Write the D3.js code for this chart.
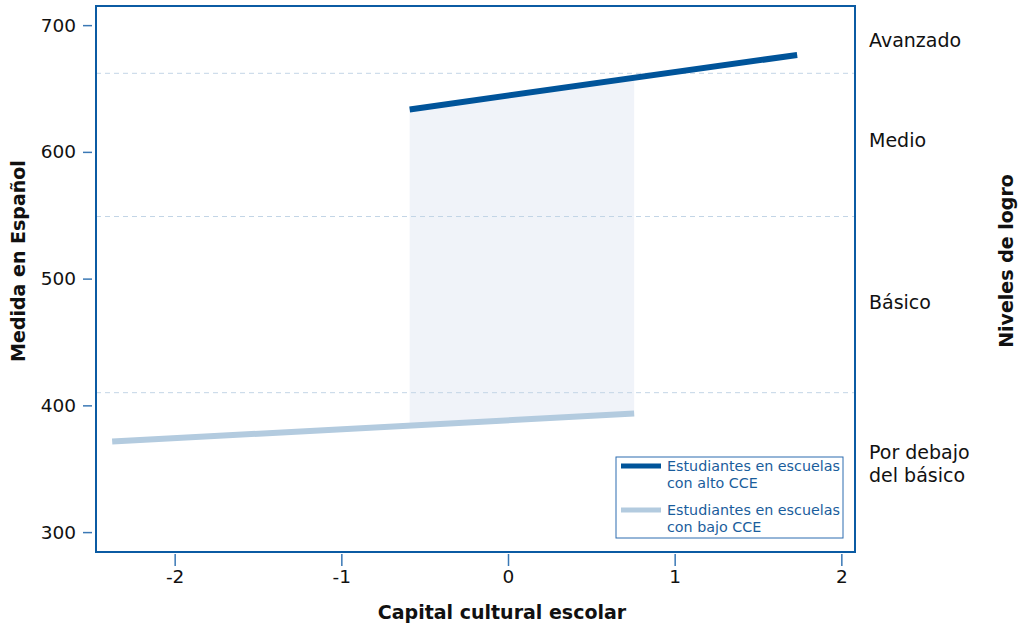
<!DOCTYPE html>
<html><head><meta charset="utf-8">
<script src="https://cdn.jsdelivr.net/npm/d3@7"></script>
<style>body{margin:0;background:#fff;} text{font-family:"DejaVu Sans",Verdana,sans-serif;}</style>
</head><body>
<svg id="c" width="1022" height="630"></svg>
<script>
// Data
const seriesNames = ["Estudiantes en escuelas con alto CCE", "Estudiantes en escuelas con bajo CCE"];
const altoX = [-0.59, 1.735];
const altoY = [633.5, 676.5];
const bajoX = [-2.375, 0.757];
const bajoY = [371.5, 393.5];
const cutPoints = [410, 549, 662];
const levelNames = ["Por debajo\ndel básico", "Básico", "Medio", "Avanzado"];
const levelCenters = [354, 481, 609, 688];
const yTicks = [300, 400, 500, 600, 700];
const xTicks = [-2, -1, 0, 1, 2];

const svg = d3.select("#c");
const L = 96, R = 855, T = 6, B = 552;
const x = d3.scaleLinear().domain([-2.472, 2.082]).range([L, R]);
const y = d3.scaleLinear().domain([284.3, 715.1]).range([B, T]);
const blue = "#0b5ba3", dark = "#00549a", light = "#b3cbdf";

// shaded area between lines over common range
const x0 = Math.max(altoX[0], bajoX[0]), x1 = Math.min(altoX[1], bajoX[1]);
const lin = (xs, ys) => d3.scaleLinear().domain(xs).range(ys);
const fa = lin(altoX, altoY), fb = lin(bajoX, bajoY);
const areaData = [x0, x1].map(v => ({x: v, hi: fa(v), lo: fb(v)}));
svg.append("path").datum(areaData)
  .attr("d", d3.area().x(d => x(d.x)).y0(d => y(d.lo)).y1(d => y(d.hi)))
  .attr("fill", "#f0f3f9");

// cut lines
svg.selectAll(".cut").data(cutPoints).join("line")
  .attr("x1", L).attr("x2", R).attr("y1", d => y(d)).attr("y2", d => y(d))
  .attr("stroke", "#c3d5e6").attr("stroke-width", 1).attr("stroke-dasharray", "5,4");

// lines
const line = d3.line().x(d => x(d[0])).y(d => y(d[1]));
svg.append("path").datum(bajoX.map((v, i) => [v, bajoY[i]]))
  .attr("d", line).attr("stroke", light).attr("stroke-width", 6).attr("fill", "none");
svg.append("path").datum(altoX.map((v, i) => [v, altoY[i]]))
  .attr("d", line).attr("stroke", dark).attr("stroke-width", 6).attr("fill", "none");

// frame
svg.append("rect").attr("x", L).attr("y", T).attr("width", R - L).attr("height", B - T)
  .attr("fill", "none").attr("stroke", blue).attr("stroke-width", 2);

// axes
const ya = svg.append("g").attr("transform", `translate(${L - 4},0)`)
  .call(d3.axisLeft(y).tickValues(yTicks).tickSize(9).tickPadding(7));
const xa = svg.append("g").attr("transform", `translate(0,${B + 2})`)
  .call(d3.axisBottom(x).tickValues(xTicks).tickSize(12).tickPadding(4).tickFormat(d => d < 0 ? "-" + Math.abs(d) : d));
[ya, xa].forEach(g => {
  g.select(".domain").remove();
  g.selectAll(".tick line").attr("stroke", "#3a78b5").attr("stroke-width", 1.5);
  g.selectAll(".tick text").attr("fill", "#111").attr("font-size", 18.5).attr("font-family", "DejaVu Sans");
});

// level labels
levelNames.forEach((n, i) => {
  const parts = n.split("\n");
  const t = svg.append("text").attr("x", 869).attr("font-size", 19).attr("fill", "#111");
  const cy = y(levelCenters[i]);
  const lh = 23;
  parts.forEach((p, j) => {
    t.append("tspan").attr("x", 869)
      .attr("y", cy + (j - (parts.length - 1) / 2) * lh)
      .attr("dy", "0.35em").text(p);
  });
});

// axis titles
svg.append("text").attr("x", 502).attr("y", 619).attr("text-anchor", "middle")
  .attr("font-size", 19).attr("font-weight", "bold").attr("fill", "#111").text("Capital cultural escolar");
svg.append("text").attr("transform", "translate(25,261) rotate(-90)").attr("text-anchor", "middle")
  .attr("font-size", 19).attr("font-weight", "bold").attr("fill", "#111").text("Medida en Español");
svg.append("text").attr("transform", "translate(1013,261) rotate(-90)").attr("text-anchor", "middle")
  .attr("font-size", 19).attr("font-weight", "bold").attr("fill", "#111").text("Niveles de logro");

// legend
const lg = svg.append("g").attr("transform", "translate(616,457)");
lg.append("rect").attr("width", 227).attr("height", 81).attr("fill", "#fff")
  .attr("stroke", "#2c6db0").attr("stroke-width", 1);
const legColors = [dark, light];
seriesNames.forEach((n, i) => {
  const gy = 9 + i * 44;
  lg.append("line").attr("x1", 5).attr("x2", 45).attr("y1", gy).attr("y2", gy)
    .attr("stroke", legColors[i]).attr("stroke-width", 5);
  const words = n.split(" con ");
  const t = lg.append("text").attr("font-size", 14.3).attr("fill", "#1a5d9c");
  t.append("tspan").attr("x", 51).attr("y", gy + 5).text(words[0]);
  t.append("tspan").attr("x", 51).attr("y", gy + 22).text("con " + words[1]);
});
</script>
</body></html>
